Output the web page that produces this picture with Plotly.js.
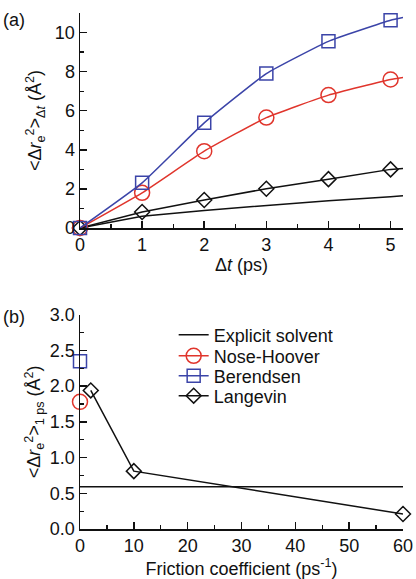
<!DOCTYPE html>
<html>
<head>
<meta charset="utf-8">
<script src="https://cdn.plot.ly/plotly-3.0.1.min.js"></script>
<style>html,body{margin:0;padding:0;background:#fff}#chart{width:416px;height:579px}</style>
</head>
<body>
<div id="chart"></div>
<script>
// Panel (a): mean-square displacement vs lag time
const dt = [0, 1, 2, 3, 4, 5];
const berendsenA = [0, 2.31, 5.38, 7.9, 9.55, 10.63];
const noseHooverA = [0, 1.80, 3.93, 5.65, 6.8, 7.6];
const langevinA = [0, 0.82, 1.43, 2.01, 2.50, 3.0];
// line continuations beyond last point (to axis end)
const dtExt = [0, 1, 2, 3, 4, 5, 5.2];
const berendsenLine = [0, 2.31, 5.38, 7.9, 9.55, 10.63, 10.77];
const noseHooverLine = [0, 1.80, 3.93, 5.65, 6.8, 7.6, 7.7];
const langevinLine = [0, 0.82, 1.43, 2.01, 2.50, 3.0, 3.05];
const explicitLineA = [0, 0.6, 0.9, 1.15, 1.4, 1.6, 1.65];

// Panel (b): 1 ps MSD vs friction coefficient
const frictionLangevin = [2, 10, 60];
const langevinB = [1.94, 0.81, 0.21];
const frictionZero = [0];
const noseHooverB = [1.78];
const berendsenB = [2.35];
const explicitX = [0, 60];
const explicitB = [0.59, 0.59];

const RED = '#e0352c', BLUE = '#3b44a8', BLK = '#111';
const FONT = 'Liberation Sans, Arial, sans-serif';
const FS = 18;

const traces = [
  // panel a
  {x: dtExt, y: explicitLineA, mode: 'lines', line: {color: BLK, width: 1.5}, showlegend: false, xaxis: 'x', yaxis: 'y'},
  {x: dtExt, y: langevinLine, mode: 'lines', line: {color: BLK, width: 1.5}, showlegend: false, xaxis: 'x', yaxis: 'y'},
  {x: dt, y: langevinA, mode: 'markers', marker: {symbol: 'diamond-open', size: 11.5, color: BLK, line: {width: 1.5}}, showlegend: false, cliponaxis: false, xaxis: 'x', yaxis: 'y'},
  {x: dtExt, y: noseHooverLine, mode: 'lines', line: {color: RED, width: 1.5, shape: 'spline', smoothing: 0.4}, showlegend: false, xaxis: 'x', yaxis: 'y'},
  {x: dt, y: noseHooverA, mode: 'markers', marker: {symbol: 'circle-open', size: 15, color: RED, line: {width: 1.5}}, showlegend: false, cliponaxis: false, xaxis: 'x', yaxis: 'y'},
  {x: dtExt, y: berendsenLine, mode: 'lines', line: {color: BLUE, width: 1.5, shape: 'spline', smoothing: 0.4}, showlegend: false, xaxis: 'x', yaxis: 'y'},
  {x: dt, y: berendsenA, mode: 'markers', marker: {symbol: 'square-open', size: 13, color: BLUE, line: {width: 1.5}}, showlegend: false, cliponaxis: false, xaxis: 'x', yaxis: 'y'},
  // panel b
  {x: explicitX, y: explicitB, mode: 'lines', name: 'Explicit solvent', legend: 'legend', line: {color: BLK, width: 1.5}, xaxis: 'x2', yaxis: 'y2'},
  {x: frictionZero, y: noseHooverB, mode: 'lines+markers', name: 'Nose-Hoover', legend: 'legend2', line: {color: RED, width: 1.5}, marker: {symbol: 'circle-open', size: 15, color: RED, line: {width: 1.5}}, cliponaxis: false, xaxis: 'x2', yaxis: 'y2'},
  {x: frictionZero, y: berendsenB, mode: 'lines+markers', name: 'Berendsen', legend: 'legend3', line: {color: BLUE, width: 1.5}, marker: {symbol: 'square-open', size: 13, color: BLUE, line: {width: 1.5}}, cliponaxis: false, xaxis: 'x2', yaxis: 'y2'},
  {x: frictionLangevin, y: langevinB, mode: 'lines+markers', name: 'Langevin', legend: 'legend4', line: {color: BLK, width: 1.5}, marker: {symbol: 'diamond-open', size: 11.5, color: BLK, line: {width: 1.5}}, cliponaxis: false, xaxis: 'x2', yaxis: 'y2'}
];

const axBase = {
  showline: true, linecolor: BLK, linewidth: 1.5, mirror: false,
  ticks: 'inside', ticklen: 7, tickwidth: 1.5, tickcolor: BLK,
  showgrid: false, zeroline: false, automargin: false,
  tickfont: {family: FONT, size: FS, color: '#111'}
};

function leg(y) {
  return {x: 0.29, y: y, xanchor: 'left', yanchor: 'middle', bgcolor: 'rgba(0,0,0,0)', borderwidth: 0,
          font: {family: FONT, size: FS, color: '#111'}};
}

const layout = {
  width: 416, height: 579,
  margin: {l: 80, r: 13, t: 13, b: 50},
  paper_bgcolor: '#fff', plot_bgcolor: 'rgba(0,0,0,0)',
  font: {family: FONT, size: FS, color: '#111'},
  xaxis: Object.assign({}, axBase, {
    domain: [0, 1], anchor: 'y', range: [0, 5.2], tickvals: [0, 1, 2, 3, 4, 5],
    minor: {dtick: 0.5, tick0: 0, ticks: 'inside', ticklen: 4, tickwidth: 1.2, tickcolor: BLK},
    title: {text: 'Δ<i>t</i> (ps)', font: {family: FONT, size: FS}, standoff: 2}
  }),
  yaxis: Object.assign({}, axBase, {
    domain: [0.5833, 1], anchor: 'x', range: [0, 11], tickvals: [0, 2, 4, 6, 8, 10],
    minor: {dtick: 1, tick0: 0, ticks: 'inside', ticklen: 4, tickwidth: 1.2, tickcolor: BLK},
    title: {text: '<Δ<i>r</i><sub>e</sub><sup>2</sup>><sub>Δ<i>t</i></sub> (Å<sup>2</sup>)', font: {family: FONT, size: FS}, standoff: 8}
  }),
  xaxis2: Object.assign({}, axBase, {
    domain: [0, 1], anchor: 'y2', range: [0, 60], tickvals: [0, 10, 20, 30, 40, 50, 60],
    minor: {dtick: 5, tick0: 0, ticks: 'inside', ticklen: 4, tickwidth: 1.2, tickcolor: BLK},
    title: {text: 'Friction coefficient (ps<sup>-1</sup>)', font: {family: FONT, size: FS}, standoff: 4}
  }),
  yaxis2: Object.assign({}, axBase, {
    domain: [0, 0.4153], anchor: 'x2', range: [0, 3], tickvals: [0, 0.5, 1, 1.5, 2, 2.5, 3], tickformat: '.1f',
    minor: {dtick: 0.25, tick0: 0, ticks: 'inside', ticklen: 4, tickwidth: 1.2, tickcolor: BLK},
    title: {text: '<Δ<i>r</i><sub>e</sub><sup>2</sup>><sub>1 ps</sub> (Å<sup>2</sup>)', font: {family: FONT, size: FS}, standoff: 4}
  }),
  legend: leg(0.376),
  legend2: leg(0.335),
  legend3: leg(0.2965),
  legend4: leg(0.2578),
  annotations: [
    {text: '(a)', xref: 'paper', yref: 'paper', x: -0.245, y: 1.01, xanchor: 'left', yanchor: 'top', showarrow: false, font: {family: FONT, size: FS}},
    {text: '(b)', xref: 'paper', yref: 'paper', x: -0.245, y: 0.435, xanchor: 'left', yanchor: 'top', showarrow: false, font: {family: FONT, size: FS}}
  ]
};

Plotly.newPlot('chart', traces, layout, {displayModeBar: false, staticPlot: true});
</script>
</body>
</html>
